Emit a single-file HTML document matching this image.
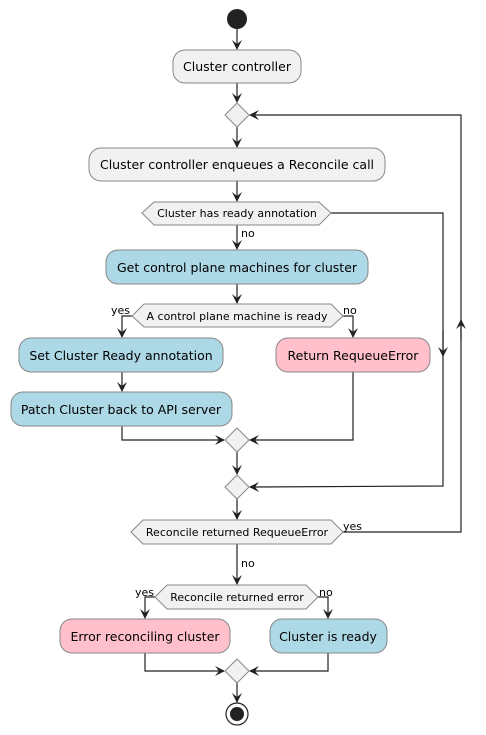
<!DOCTYPE html>
<html><head><style>body{margin:0;background:#fff}svg{display:block}text{font-family:"DejaVu Sans","Liberation Sans",sans-serif;fill:#000}</style></head><body>
<svg width="486" height="735" viewBox="0 0 486 735" xmlns="http://www.w3.org/2000/svg">
<defs><marker id="a" markerWidth="10" markerHeight="10" refX="9" refY="5" orient="auto" markerUnits="userSpaceOnUse"><path d="M0,0 L10,5 L0,10 L4,5 Z" fill="#222"/></marker></defs>
<g stroke="#222" stroke-width="1.2" fill="none">
<line x1="237" y1="29" x2="237" y2="49" marker-end="url(#a)"/>
<line x1="237" y1="83" x2="237" y2="102" marker-end="url(#a)"/>
<line x1="237" y1="127" x2="237" y2="147" marker-end="url(#a)"/>
<line x1="237" y1="181" x2="237" y2="201" marker-end="url(#a)"/>
<line x1="237" y1="225" x2="237" y2="249" marker-end="url(#a)"/>
<line x1="237" y1="284" x2="237" y2="303" marker-end="url(#a)"/>
<polyline points="331,213 443,213 443,486 250,487" />
<line x1="443" y1="330" x2="443" y2="356" marker-end="url(#a)"/>
<line x1="252" y1="487" x2="250" y2="487" marker-end="url(#a)"/>
<polyline points="132,316 122,316 122,337" marker-end="url(#a)"/>
<polyline points="343,316 353,316 353,337" marker-end="url(#a)"/>
<line x1="122" y1="372" x2="122" y2="391" marker-end="url(#a)"/>
<polyline points="122,426 122,440 224,440" marker-end="url(#a)"/>
<polyline points="353,372 353,440 250,440" marker-end="url(#a)"/>
<line x1="237" y1="452" x2="237" y2="474" marker-end="url(#a)"/>
<line x1="237" y1="499" x2="237" y2="519" marker-end="url(#a)"/>
<polyline points="343,532 461,532 461,115 250,115" marker-end="url(#a)"/>
<line x1="461" y1="340" x2="461" y2="320" marker-end="url(#a)"/>
<line x1="237" y1="544" x2="237" y2="584" marker-end="url(#a)"/>
<polyline points="155,597 145,597 145,618" marker-end="url(#a)"/>
<polyline points="318,597 328,597 328,618" marker-end="url(#a)"/>
<polyline points="145,653 145,671 224,671" marker-end="url(#a)"/>
<polyline points="328,653 328,671 250,671" marker-end="url(#a)"/>
<line x1="237" y1="683" x2="237" y2="702" marker-end="url(#a)"/>
</g>
<circle cx="237" cy="19" r="10" fill="#222"/>
<g stroke="#888" stroke-width="1" fill="#f1f1f1">
<rect x="173" y="50" width="128" height="33" rx="12"/>
<polygon points="237,103 249,115 237,127 225,115"/>
<rect x="89" y="148" width="296" height="33" rx="12"/>
<polygon points="142,213 154,202 319,202 331,213 319,225 154,225"/>
<rect x="106" y="250" width="262" height="34" rx="12" fill="#add8e6"/>
<polygon points="132,316 144,304 331,304 343,316 331,327 144,327"/>
<rect x="19" y="338" width="204" height="34" rx="12" fill="#add8e6"/>
<rect x="11" y="392" width="221" height="34" rx="12" fill="#add8e6"/>
<rect x="276" y="338" width="154" height="34" rx="12" fill="#ffc0cb"/>
<polygon points="237,428 249,440 237,452 225,440"/>
<polygon points="237,475 249,487 237,499 225,487"/>
<polygon points="131,532 143,520 331,520 343,532 331,544 143,544"/>
<polygon points="155,597 167,585 306,585 318,597 306,609 167,609"/>
<rect x="60" y="619" width="170" height="34" rx="12" fill="#ffc0cb"/>
<rect x="270" y="619" width="117" height="34" rx="12" fill="#add8e6"/>
<polygon points="237,659 249,671 237,683 225,671"/>
</g>
<circle cx="237" cy="714" r="11" fill="none" stroke="#222" stroke-width="1.2"/>
<circle cx="237" cy="714" r="7" fill="#222"/>
<g font-size="12.5" text-anchor="middle">
<text x="237" y="71">Cluster controller</text>
<text x="237" y="169">Cluster controller enqueues a Reconcile call</text>
<text x="237" y="272">Get control plane machines for cluster</text>
<text x="121" y="360">Set Cluster Ready annotation</text>
<text x="121" y="414">Patch Cluster back to API server</text>
<text x="353" y="360">Return RequeueError</text>
<text x="145" y="641">Error reconciling cluster</text>
<text x="328" y="641">Cluster is ready</text>
</g>
<g font-size="11" text-anchor="middle">
<text x="237" y="217">Cluster has ready annotation</text>
<text x="237" y="320">A control plane machine is ready</text>
<text x="237" y="536">Reconcile returned RequeueError</text>
<text x="237" y="601">Reconcile returned error</text>
</g>
<g font-size="11">
<text x="241" y="237">no</text>
<text x="111" y="314">yes</text>
<text x="343" y="314">no</text>
<text x="343" y="530">yes</text>
<text x="241" y="567">no</text>
<text x="135" y="596">yes</text>
<text x="319" y="596">no</text>
</g>
</svg>
</body></html>
